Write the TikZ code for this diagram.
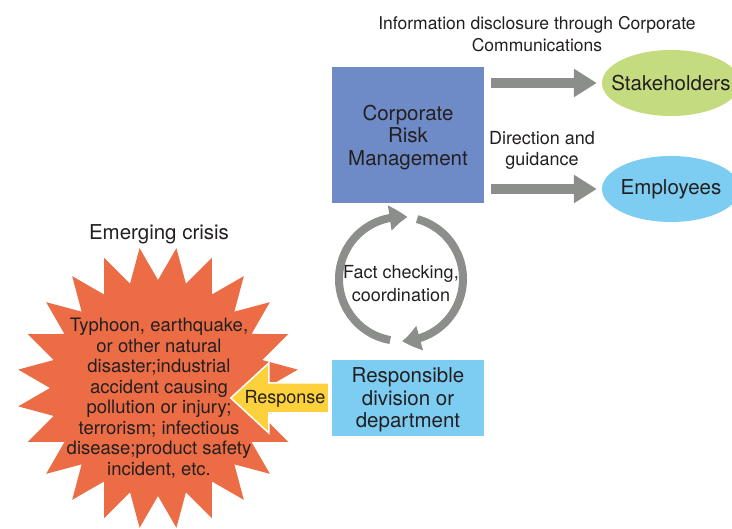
\documentclass[tikz,border=0pt]{standalone}
\usepackage{fontspec}
\setmainfont{TeX Gyre Heros}
\usetikzlibrary{arrows.meta,bending,positioning,shapes.geometric}

\definecolor{crmblue}{RGB}{111,139,199}
\definecolor{skyblue}{RGB}{125,204,242}
\definecolor{leafgreen}{RGB}{197,219,128}
\definecolor{crisisred}{RGB}{236,109,69}
\definecolor{respyellow}{RGB}{252,209,59}
\definecolor{arrowgray}{RGB}{140,142,139}
\definecolor{inkgray}{RGB}{35,31,32}

\begin{document}
\begin{tikzpicture}[x=1pt,y=1pt,
  every node/.style={text=inkgray, align=center, font=\fontsize{18}{21}\selectfont},
  unit_box/.style={minimum width=152pt, inner sep=0pt, text depth=0pt, font=\fontsize{20.5}{22.5}\selectfont},
  party/.style={ellipse, minimum width=138pt, minimum height=66pt, inner ysep=0pt, inner xsep=-14pt, font=\fontsize{20.5}{22}\selectfont},
  flow/.style={draw=arrowgray, line width=10pt, -{Triangle[length=23pt,width=27pt]}, shorten <=7pt, shorten >=5pt},
  loop_flow/.style={draw=arrowgray, line width=8pt, -{Triangle[length=18pt,width=24pt,bend]}},
  respond/.style={fill=respyellow, draw=white, line width=1.5pt, line join=miter}
]
\useasboundingbox (0,0) rectangle (732,529);
\clip (0,0) rectangle (732,529);

% units
\node[unit_box, fill=crmblue, minimum height=136pt] (crm) at (408,394) {Corporate\\Risk\\Management};
\node[unit_box, fill=skyblue, minimum height=76pt] (rdd) at (408,131) {Responsible\\division or\\department};
\node[party, fill=leafgreen] (stake) at (671,446) {Stakeholders};
\node[party, fill=skyblue] (emp) at (671,340) {Employees};

% outward arrows
\node[font=\fontsize{17.5}{22}\selectfont] (disclose) at (537,495) {Information disclosure through Corporate\\Communications};
\node (guide) at (542,379) {Direction and\\guidance};
\draw[flow] (crm.east |- stake) -- (stake.west);
\draw[flow] (crm.east |- emp) -- (emp.west);

% checking loop
\coordinate (hub) at (401,250);
\draw[loop_flow] ([shift={(260:62)}]hub) arc[start angle=260, end angle=84, radius=62pt];
\draw[loop_flow] ([shift={(75:62)}]hub) arc[start angle=75, end angle=-89, radius=62pt];
\node[font=\fontsize{18}{23}\selectfont] (fact) at (401,245) {Fact checking,\\coordination};

% crisis
\coordinate (burst) at (158,141);
\fill[crisisred] ([shift={(7.5:141)}]burst)
  \foreach \k [evaluate=\k as \r using {ifthenelse(mod(\k,2)==0,141,108)}] in {1,...,47} {
    -- ([shift={({7.5+\k*7.5}:\r)}]burst) } -- cycle;
\node[font=\fontsize{20.5}{22}\selectfont] (crisistitle) at (159,295) {Emerging crisis};
\node[font=\fontsize{18.5}{20.5}\selectfont] (crisis) at (159,131) {Typhoon, earthquake,\\or other natural\\disaster;industrial\\accident causing\\pollution or injury;\\terrorism; infectious\\disease;product safety\\incident, etc.};

% response
\draw[respond] ([shift={(-3,15)}]rdd.west) -- ++(-60,0) -- ++(0,20) -- ++(-38,-35) -- ++(38,-35) -- ++(0,20) -- ++(60,0) -- cycle;
\node (resp) at (285,130) {Response};
\end{tikzpicture}
\end{document}
